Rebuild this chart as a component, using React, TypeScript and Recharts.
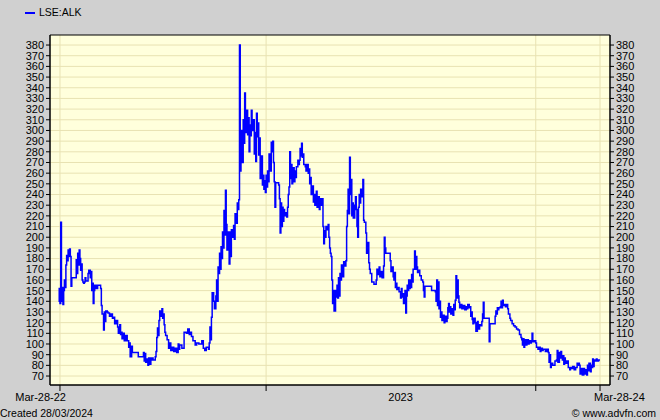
import React from 'react';
import { LineChart, Line, XAxis, YAxis, CartesianGrid, ReferenceArea } from 'recharts';

const TICKER = 'LSE:ALK';
const CREATED = 'Created 28/03/2024';
const CREDIT = '\u00A9 www.advfn.com';

// y-axis ticks (price, pence)
const yTicks = [70, 80, 90, 100, 110, 120, 130, 140, 150, 160, 170, 180, 190, 200, 210, 220, 230, 240, 250, 260, 270, 280, 290, 300, 310, 320, 330, 340, 350, 360, 370, 380];
const yDomain: [number, number] = [61.6, 389.4];

// x-axis: days since 28 Mar 2022
const xDomain: [number, number] = [-13.5, 744.5];
const xTickDays = [0, 279, 461, 644, 731];
const xTickLabels: Record<number, string> = { 0: 'Mar-28-22', 461: '2023', 731: 'Mar-28-24' };
const xTickMarks = [0, 279, 644, 731];
const xGridDays = [0, 279, 644, 731];

// [day since 28 Mar 2022, close price]
const priceHistory: [number, number][] = [
  [-2, 140], [-1, 152], [0, 138], [1, 214], [2, 140], [3, 153], [4, 137], [5, 150], [6, 160], [7, 153], [8, 174], [9, 183],
  [10, 178], [11, 188], [12, 182], [13, 189], [14, 182], [15, 154], [16, 162], [22, 179], [23, 166], [24, 185], [25, 174],
  [26, 188], [27, 180], [28, 169], [29, 175], [30, 160], [31, 158], [32, 157], [33, 158], [34, 162], [35, 159], [38, 166],
  [39, 169], [41, 162], [42, 168], [43, 150], [44, 157], [45, 138], [46, 150], [47, 155], [49, 152], [51, 155], [55, 152],
  [56, 136], [57, 128], [59, 113], [60, 130], [61, 121], [62, 131], [64, 130], [65, 129], [67, 126], [69, 128], [71, 124],
  [73, 125], [74, 119], [76, 122], [78, 116], [79, 110], [81, 118], [82, 109], [83, 111], [84, 105], [85, 110], [87, 103],
  [89, 108], [91, 103], [93, 97], [94, 101], [95, 88], [97, 98], [98, 92], [106, 88], [113, 92], [114, 84], [115, 91],
  [116, 83], [117, 86], [119, 80], [120, 87], [122, 81], [123, 85], [124, 87], [126, 85], [129, 88], [130, 93], [131, 106],
  [132, 115], [133, 108], [134, 122], [135, 131], [137, 126], [138, 133], [139, 124], [140, 128], [141, 118], [142, 111],
  [143, 108], [145, 104], [147, 96], [149, 101], [150, 94], [152, 97], [154, 93], [156, 96], [158, 92], [160, 100], [161, 95],
  [162, 99], [165, 96], [168, 111], [171, 110], [173, 114], [175, 109], [176, 111], [178, 107], [180, 103], [183, 99],
  [185, 101], [188, 100], [192, 103], [194, 96], [196, 94], [198, 97], [201, 95], [202, 101], [203, 116], [204, 104],
  [205, 125], [206, 148], [208, 140], [209, 133], [211, 145], [212, 160], [213, 140], [214, 172], [215, 166], [216, 185],
  [217, 170], [218, 191], [219, 180], [220, 205], [221, 190], [222, 225], [223, 202], [224, 244], [225, 212], [226, 188],
  [227, 205], [228, 196], [229, 175], [230, 205], [231, 182], [232, 207], [234, 200], [235, 211], [236, 198], [237, 222],
  [238, 213], [240, 232], [241, 226], [242, 235], [243, 380], [244, 262], [245, 300], [246, 270], [248, 310], [249, 288],
  [250, 335], [251, 298], [252, 319], [254, 296], [255, 312], [256, 280], [257, 305], [258, 295], [259, 319], [260, 300],
  [262, 310], [263, 278], [264, 298], [265, 271], [266, 316], [267, 294], [268, 307], [269, 277], [270, 293], [271, 255],
  [273, 276], [274, 249], [275, 258], [276, 245], [277, 253], [278, 242], [279, 258], [280, 247], [281, 262], [282, 252],
  [283, 278], [285, 262], [286, 289], [287, 280], [288, 290], [289, 270], [290, 252], [291, 228], [292, 251], [296, 249],
  [297, 236], [298, 204], [299, 232], [300, 210], [301, 228], [302, 215], [303, 226], [304, 220], [306, 223], [307, 219],
  [308, 228], [309, 240], [310, 247], [311, 280], [312, 255], [313, 268], [314, 250], [315, 265], [317, 252], [318, 262],
  [319, 256], [320, 266], [322, 272], [323, 268], [324, 272], [325, 283], [326, 276], [327, 288], [328, 275], [329, 278],
  [330, 268], [332, 266], [333, 262], [334, 268], [336, 260], [337, 264], [338, 250], [339, 256], [340, 240], [341, 248],
  [343, 233], [344, 240], [345, 230], [347, 243], [348, 228], [349, 238], [351, 226], [352, 236], [353, 230], [355, 236],
  [356, 210], [357, 194], [358, 206], [359, 200], [360, 210], [361, 207], [363, 212], [364, 200], [365, 190], [366, 185],
  [367, 182], [368, 160], [369, 138], [370, 150], [371, 131], [373, 150], [374, 144], [375, 155], [376, 143], [377, 162],
  [378, 145], [379, 166], [380, 160], [381, 174], [383, 163], [384, 177], [386, 173], [387, 178], [388, 210], [389, 225],
  [390, 245], [391, 222], [392, 275], [393, 240], [394, 254], [395, 220], [396, 232], [397, 218], [399, 230], [400, 238],
  [401, 226], [402, 210], [403, 200], [404, 228], [405, 240], [406, 232], [407, 245], [408, 238], [410, 254], [411, 216],
  [412, 214], [414, 204], [415, 185], [416, 195], [418, 176], [419, 170], [420, 166], [422, 158], [425, 156], [428, 160],
  [429, 170], [431, 165], [432, 172], [433, 163], [435, 168], [436, 162], [438, 173], [439, 200], [440, 190], [441, 185],
  [447, 178], [448, 168], [449, 172], [451, 163], [452, 160], [453, 167], [454, 153], [455, 157], [456, 151], [458, 153],
  [459, 149], [461, 143], [462, 152], [463, 144], [464, 147], [465, 138], [467, 150], [468, 129], [469, 145], [470, 155],
  [471, 150], [472, 160], [473, 152], [474, 160], [475, 153], [476, 165], [477, 158], [478, 170], [480, 187], [481, 170],
  [482, 182], [483, 172], [484, 167], [485, 169], [487, 164], [489, 160], [491, 158], [492, 150], [493, 144], [494, 154],
  [503, 150], [508, 149], [509, 140], [510, 160], [511, 136], [512, 158], [513, 133], [514, 140], [515, 125], [516, 130],
  [517, 122], [519, 127], [520, 120], [521, 126], [523, 121], [524, 124], [525, 134], [526, 138], [527, 130], [528, 135],
  [529, 128], [531, 133], [532, 127], [533, 137], [534, 132], [535, 141], [536, 164], [537, 143], [538, 160], [539, 145],
  [540, 139], [541, 134], [543, 137], [544, 133], [546, 136], [548, 132], [550, 135], [551, 133], [552, 137], [554, 134],
  [555, 135], [556, 126], [557, 130], [558, 123], [559, 119], [560, 124], [562, 120], [563, 112], [565, 121], [566, 114],
  [568, 118], [570, 117], [571, 121], [572, 128], [573, 139], [574, 124], [580, 124], [581, 102], [582, 119], [588, 119],
  [589, 126], [590, 131], [591, 128], [592, 134], [593, 132], [594, 134], [596, 135], [597, 140], [598, 134], [599, 141],
  [600, 136], [602, 137], [603, 135], [604, 137], [606, 133], [607, 128], [609, 124], [610, 122], [612, 119], [614, 117],
  [616, 116], [618, 114], [620, 113], [622, 109], [624, 106], [625, 104], [626, 99], [627, 105], [628, 97], [629, 104],
  [631, 99], [632, 104], [634, 100], [635, 103], [636, 101], [638, 103], [639, 110], [640, 102], [642, 103], [644, 101],
  [645, 97], [647, 95], [648, 97], [650, 93], [651, 96], [653, 94], [654, 95], [657, 93], [659, 95], [661, 92], [662, 83],
  [663, 90], [664, 78], [665, 82], [667, 80], [670, 84], [672, 85], [673, 94], [674, 83], [676, 92], [677, 87], [678, 93],
  [679, 89], [680, 85], [681, 89], [682, 81], [683, 87], [684, 84], [685, 82], [686, 84], [688, 78], [690, 76], [691, 78],
  [693, 77], [694, 79], [696, 76], [698, 78], [700, 82], [701, 80], [702, 82], [703, 80], [704, 72], [705, 76], [706, 77],
  [707, 71], [709, 77], [710, 72], [711, 76], [713, 71], [714, 80], [715, 75], [716, 82], [718, 74], [719, 80], [720, 78],
  [721, 86], [722, 79], [723, 85], [724, 84], [726, 86], [727, 84], [729, 85], [731, 85],
];

const data = priceHistory.map(([day, close]) => ({ day, close }));

const FONT = '"Liberation Sans", Arial, sans-serif';
const BG = '#d0d0d0';
const PLOT_BG = '#ffffdc';
const GRID = '#e8e2b2';
const LINE = '#0000ff';

const XTick = (props: any) => {
  const { x, y, payload } = props;
  const v = payload.value as number;
  const label = xTickLabels[v];
  const mark = xTickMarks.includes(v);
  let anchor: 'start' | 'middle' | 'end' = 'middle';
  let dx = 0;
  if (v === 0) { anchor = 'end'; dx = 6; }
  if (v === 731) { anchor = 'start'; dx = -6; }
  return (
    <g>
      {mark && <line x1={x} x2={x} y1={y} y2={y + 6} stroke="#000" strokeWidth={1} />}
      {label && (
        <text x={x + dx} y={y + 16} textAnchor={anchor} fontSize={11} fontFamily={FONT} fill="#000">
          {label}
        </text>
      )}
    </g>
  );
};

export default function App() {
  return (
    <div style={{ position: 'absolute', left: 0, top: 0, width: 660, height: 420, background: BG, fontFamily: FONT, overflow: 'hidden' }}>
      <LineChart width={660} height={420} data={data} margin={{ top: 35, right: 0, bottom: 0, left: 0 }}>
        <CartesianGrid
          fill={PLOT_BG}
          fillOpacity={1}
          stroke={GRID}
          strokeWidth={1}
          horizontalValues={yTicks}
          verticalValues={xGridDays}
        />
        <XAxis
          dataKey="day"
          type="number"
          domain={xDomain}
          allowDataOverflow
          ticks={xTickDays}
          interval={0}
          height={35}
          tickSize={0}
          tickMargin={0}
          tickLine={false}
          axisLine={{ stroke: '#000' }}
          tick={<XTick />}
        />
        <YAxis
          yAxisId={0}
          orientation="left"
          type="number"
          domain={yDomain}
          allowDataOverflow
          ticks={yTicks}
          interval={0}
          width={50}
          tickSize={4}
          tickMargin={2}
          tickLine={{ stroke: '#000' }}
          axisLine={{ stroke: '#000' }}
          tick={{ fontSize: 11, fill: '#000', fontFamily: FONT }}
        />
        <YAxis
          yAxisId="r"
          orientation="right"
          type="number"
          domain={yDomain}
          allowDataOverflow
          ticks={yTicks}
          interval={0}
          width={50}
          tickSize={4}
          tickMargin={2}
          tickLine={{ stroke: '#000' }}
          axisLine={{ stroke: '#000' }}
          tick={{ fontSize: 11, fill: '#000', fontFamily: FONT }}
        />
        <Line
          type="stepAfter"
          dataKey="close"
          yAxisId={0}
          stroke={LINE}
          strokeWidth={1.5}
          dot={false}
          activeDot={false}
          isAnimationActive={false}
        />
        <ReferenceArea
          x1={xDomain[0]}
          x2={xDomain[1]}
          y1={yDomain[0]}
          y2={yDomain[1]}
          yAxisId={0}
          fill="none"
          stroke="#000"
          strokeWidth={1}
          ifOverflow="visible"
        />
      </LineChart>
      <div style={{ position: 'absolute', left: 25, top: 12, width: 10, height: 2, background: LINE }} />
      <div style={{ position: 'absolute', left: 39, top: 6, fontSize: 10.5, lineHeight: '12px', color: '#000' }}>{TICKER}</div>
      <div style={{ position: 'absolute', left: 0, top: 407, fontSize: 10.5, lineHeight: '12px', color: '#000' }}>{CREATED}</div>
      <div style={{ position: 'absolute', right: 4, top: 407, fontSize: 10.5, lineHeight: '12px', color: '#000' }}>{CREDIT}</div>
    </div>
  );
}
